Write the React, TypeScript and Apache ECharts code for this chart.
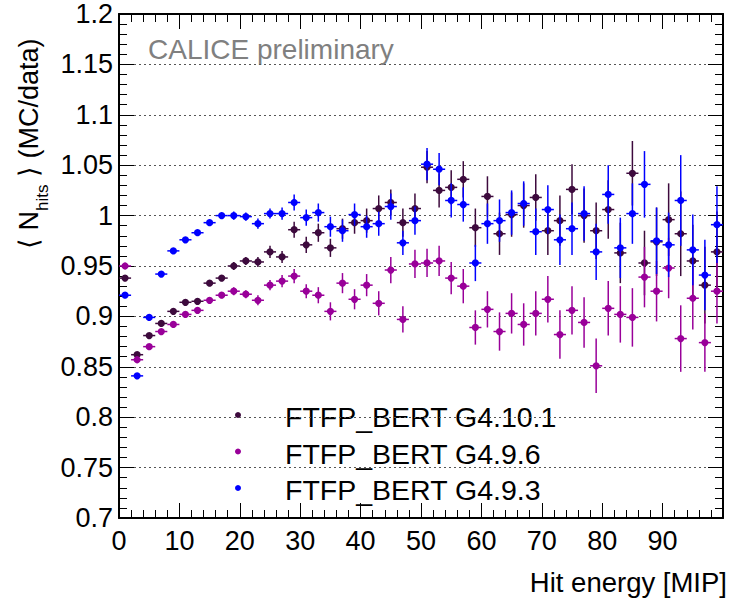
import React, { useEffect, useRef } from "react";
import * as echarts from "echarts";

// Bin centres of the hit-energy histogram [MIP]
const binCenters = [
  1, 3, 5, 7, 9, 11, 13, 15, 17, 19,
  21, 23, 25, 27, 29, 31, 33, 35, 37, 39,
  41, 43, 45, 47, 49, 51, 53, 55, 57, 59,
  61, 63, 65, 67, 69, 71, 73, 75, 77, 79,
  81, 83, 85, 87, 89, 91, 93, 95, 97, 99,
];

// FTFP_BERT G4.10.1
const g4101 = [
  0.938, 0.862, 0.881, 0.893, 0.905, 0.914, 0.915, 0.933, 0.938, 0.95,
  0.955, 0.954, 0.964, 0.959, 0.986, 0.971, 0.983, 0.968, 0.987, 0.993,
  0.995, 1.007, 1.013, 0.993, 1.007, 1.048, 1.025, 1.028, 1.036, 0.988,
  1.019, 0.982, 1.001, 1.01, 1.018, 0.985, 0.995, 1.026, 1.0, 0.985,
  1.006, 0.963, 1.042, 0.953, 0.974, 0.996, 0.982, 0.955, 0.931, 0.964,
];
const g4101Err = [
  0.002, 0.002, 0.002, 0.002, 0.002, 0.003, 0.003, 0.003, 0.003, 0.004,
  0.004, 0.005, 0.006, 0.006, 0.008, 0.008, 0.009, 0.009, 0.01, 0.011,
  0.012, 0.013, 0.013, 0.014, 0.015, 0.016, 0.017, 0.017, 0.018, 0.019,
  0.02, 0.021, 0.022, 0.022, 0.023, 0.024, 0.025, 0.025, 0.027, 0.028,
  0.029, 0.03, 0.032, 0.032, 0.034, 0.036, 0.042, 0.036, 0.038, 0.04,
];

// FTFP_BERT G4.9.6
const g496 = [
  0.95, 0.857, 0.87, 0.885, 0.892, 0.902, 0.906, 0.916, 0.921, 0.925,
  0.922, 0.916, 0.931, 0.935, 0.94, 0.925, 0.921, 0.905, 0.933, 0.917,
  0.931, 0.913, 0.946, 0.897, 0.952, 0.953, 0.955, 0.938, 0.93, 0.889,
  0.907, 0.885, 0.903, 0.892, 0.903, 0.917, 0.882, 0.906, 0.894, 0.851,
  0.908, 0.902, 0.899, 0.939, 0.925, 0.948, 0.878, 0.918, 0.874, 0.925,
];
const g496Err = [
  0.002, 0.002, 0.002, 0.002, 0.002, 0.002, 0.003, 0.003, 0.003, 0.004,
  0.004, 0.005, 0.005, 0.006, 0.007, 0.007, 0.008, 0.009, 0.01, 0.01,
  0.011, 0.012, 0.013, 0.013, 0.014, 0.014, 0.015, 0.016, 0.017, 0.017,
  0.018, 0.019, 0.02, 0.021, 0.022, 0.023, 0.024, 0.024, 0.025, 0.027,
  0.027, 0.028, 0.029, 0.03, 0.03, 0.03, 0.033, 0.031, 0.029, 0.032,
];

// FTFP_BERT G4.9.3
const g493 = [
  0.921, 0.841, 0.899, 0.942, 0.965, 0.976, 0.983, 0.993, 1.0, 1.0,
  0.999, 0.992, 1.002, 1.002, 1.013, 0.998, 1.003, 0.989, 0.985, 1.001,
  0.989, 0.992, 1.009, 0.973, 0.995, 1.051, 1.046, 1.015, 1.011, 0.953,
  0.992, 0.995, 1.003, 1.012, 0.984, 1.006, 0.976, 0.987, 1.002, 0.964,
  1.021, 0.968, 1.002, 1.031, 0.975, 0.971, 1.015, 0.966, 0.941, 0.991,
];
const g493Err = [
  0.002, 0.002, 0.002, 0.002, 0.002, 0.002, 0.003, 0.003, 0.003, 0.004,
  0.004, 0.005, 0.005, 0.006, 0.008, 0.008, 0.009, 0.01, 0.011, 0.011,
  0.011, 0.012, 0.013, 0.012, 0.014, 0.016, 0.016, 0.017, 0.017, 0.018,
  0.02, 0.021, 0.022, 0.022, 0.023, 0.024, 0.025, 0.026, 0.027, 0.028,
  0.029, 0.03, 0.03, 0.033, 0.033, 0.032, 0.045, 0.035, 0.035, 0.038,
];

const seriesNames = ["FTFP_BERT G4.10.1", "FTFP_BERT G4.9.6", "FTFP_BERT G4.9.3"];
const seriesColors = ["#3d0a3d", "#990099", "#0000ff"];

const xTickMax = 100;
const yTickMin = 0.7;
const yTickMax = 1.2;

const FONT = "'Liberation Sans', Arial, Helvetica, sans-serif";

function makeRender(color: string) {
  return (_params: any, api: any) => {
    const x = api.value(0);
    const y = api.value(1);
    const e = api.value(2);
    const c = api.coord([x, y]);
    const l = api.coord([x - 1, y]);
    const r = api.coord([x + 1, y]);
    const t = api.coord([x, y + e]);
    const b = api.coord([x, y - e]);
    return {
      type: "group",
      children: [
        {
          type: "line",
          shape: { x1: l[0], y1: c[1], x2: r[0], y2: c[1] },
          style: { stroke: color, lineWidth: 1.5 },
        },
        {
          type: "line",
          shape: { x1: c[0], y1: t[1], x2: c[0], y2: b[1] },
          style: { stroke: color, lineWidth: 1.5 },
        },
        {
          type: "circle",
          shape: { cx: c[0], cy: c[1], r: 3.6 },
          style: { fill: color },
        },
      ],
    };
  };
}

export default function App() {
  const ref = useRef<HTMLDivElement>(null);

  useEffect(() => {
    if (!ref.current) return;
    const chart = echarts.init(ref.current, undefined, { renderer: "svg" });

    const values = [g4101, g496, g493];
    const errs = [g4101Err, g496Err, g493Err];

    const axisLine = { show: true, onZero: false, lineStyle: { color: "#000", width: 2 } };
    const tick = { show: true, inside: true, length: 15, lineStyle: { color: "#000", width: 1 } };
    const minor = { show: true, splitNumber: 5, length: 8, lineStyle: { color: "#000", width: 1 } };

    const option: any = {
      animation: false,
      backgroundColor: "#fff",
      grid: {
        left: 119,
        top: 14,
        right: 9,
        bottom: 96,
        containLabel: false,
        outerBoundsMode: "none",
      },
      xAxis: [
        {
          type: "value",
          position: "bottom",
          min: 0,
          max: xTickMax,
          interval: 10,
          axisLine,
          axisTick: tick,
          minorTick: minor,
          splitLine: { show: false },
          axisLabel: {
            show: true,
            color: "#000",
            fontSize: 27,
            fontFamily: FONT,
            margin: 9,
            formatter: (v: number) => (v >= xTickMax ? "" : String(v)),
          },
        },
        {
          type: "value",
          position: "top",
          min: 0,
          max: xTickMax,
          interval: 10,
          axisLine,
          axisTick: tick,
          minorTick: minor,
          splitLine: { show: false },
          axisLabel: { show: false },
        },
      ],
      yAxis: [
        {
          type: "value",
          position: "left",
          min: yTickMin,
          max: yTickMax,
          interval: 0.05,
          axisLine,
          axisTick: tick,
          minorTick: minor,
          splitLine: {
            show: true,
            lineStyle: { color: "#555", width: 1.2, type: [2, 3] },
          },
          axisLabel: {
            show: true,
            color: "#000",
            fontSize: 27,
            fontFamily: FONT,
            margin: 6,
            formatter: (v: number) => String(parseFloat(v.toFixed(2))),
          },
        },
        {
          type: "value",
          position: "right",
          min: yTickMin,
          max: yTickMax,
          interval: 0.05,
          axisLine,
          axisTick: tick,
          minorTick: minor,
          splitLine: { show: false },
          axisLabel: { show: false },
        },
      ],
      series: seriesNames.map((name, i) => ({
        name,
        type: "custom",
        xAxisIndex: 0,
        yAxisIndex: 0,
        clip: true,
        renderItem: makeRender(seriesColors[i]),
        data: binCenters.map((x, k) => [x, values[i][k], errs[i][k]]),
        z: 10 + i,
      })),
      graphic: [
        {
          type: "text",
          left: 148,
          top: 35,
          style: {
            text: "CALICE preliminary",
            fill: "#808080",
            font: `28px ${FONT}`,
          },
        },
        ...seriesNames.flatMap((name, i) => [
          {
            type: "circle",
            shape: { cx: 238, cy: 415 + i * 36.5, r: 3 },
            style: { fill: seriesColors[i] },
          },
          {
            type: "text",
            x: 285,
            y: 417 + i * 36.5,
            style: {
              text: name,
              fill: "#000",
              font: `28.5px ${FONT}`,
              textVerticalAlign: "middle",
              verticalAlign: "middle",
            },
          },
        ]),
        {
          type: "text",
          x: 727,
          y: 582,
          style: {
            text: "Hit energy [MIP]",
            fill: "#000",
            font: `27.5px ${FONT}`,
            align: "right",
            textAlign: "right",
            verticalAlign: "middle",
            textVerticalAlign: "middle",
          },
        },
        {
          type: "text",
          x: 29,
          y: 249,
          rotation: Math.PI / 2,
          style: {
            text: "{a|\u27e8 N}{s|hits}{a| \u27e9 (MC/data)}",
            align: "left",
            verticalAlign: "middle",
            rich: {
              a: {
                fontSize: 27,
                fontFamily: FONT,
                fill: "#000",
                lineHeight: 44,
                verticalAlign: "middle",
              },
              s: {
                fontSize: 17,
                fontFamily: FONT,
                fill: "#000",
                lineHeight: 22,
                verticalAlign: "bottom",
              },
            },
          },
        },
      ],
    };

    chart.setOption(option);
    return () => chart.dispose();
  }, []);

  return (
    <div
      ref={ref}
      style={{ position: "fixed", left: 0, top: 0, width: 732, height: 614, background: "#fff" }}
    />
  );
}
